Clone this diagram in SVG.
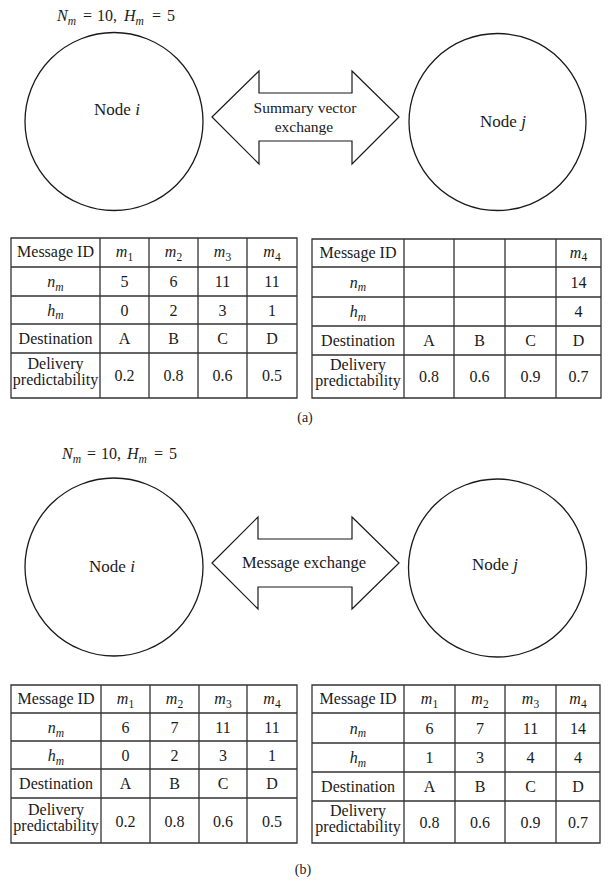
<svg xmlns="http://www.w3.org/2000/svg" width="611" height="883" viewBox="0 0 611 883" font-family="'Liberation Serif', 'Times New Roman', 'DejaVu Serif', serif">
<style>
text{font-family:'Liberation Serif','Times New Roman','DejaVu Serif',serif;fill:#1a1a1a}
.node{fill:#fff;stroke:#1a1a1a;stroke-width:1.3}
.arrow{fill:#fff;stroke:#1a1a1a;stroke-width:1.2}
.lbl{font-size:17px;text-anchor:middle}
.al{font-size:16.5px;text-anchor:middle}
.al2{font-size:15.5px;text-anchor:middle}
.hd{font-size:16px}
.cell{font-size:16px;text-anchor:middle}
.grid{fill:none;stroke:#333;stroke-width:1.3}
.it{font-style:italic}
.sub{font-size:11.5px}
.cap{font-size:14px;text-anchor:middle}
</style>

<!-- (a) -->
<g id="header-a" class="hd">
<text y="21"><tspan x="57" class="it">N</tspan><tspan class="it sub" dy="3.5">m</tspan><tspan x="83" dy="-3.5">=</tspan><tspan x="97">10,</tspan><tspan x="124" class="it">H</tspan><tspan class="it sub" dy="3.5">m</tspan><tspan x="152" dy="-3.5">=</tspan><tspan x="167">5</tspan></text>
</g>
<g id="node-i-a">
<circle class="node" cx="114" cy="121.5" r="89"/>
<text class="lbl" x="117" y="115">Node <tspan class="it">i</tspan></text>
</g>
<g id="node-j-a">
<circle class="node" cx="497.5" cy="122" r="88.5"/>
<text class="lbl" x="503" y="127">Node <tspan class="it">j</tspan></text>
</g>
<g id="connectors-a">
<polygon class="arrow" points="212,117 259,71 259,93 352,93 352,71 399,117 352,164 352,141 259,141 259,164"/>
<text class="al2" x="305" y="112.5">Summary vector</text>
<text class="al2" x="304" y="131.5">exchange</text>
</g>

<g id="table-a-i">
<path class="grid" d="M11,238H297V398H11Z M11,267H297 M11,296H297 M11,324H297 M11,353H297 M100,238V398 M149,238V398 M198,238V398 M247,238V398"/>
<g class="cell">
<text x="55.5" y="257">Message ID</text>
<text x="124.5" y="257"><tspan class="it">m</tspan><tspan class="sub" dy="3.5">1</tspan></text>
<text x="173.5" y="257"><tspan class="it">m</tspan><tspan class="sub" dy="3.5">2</tspan></text>
<text x="222.5" y="257"><tspan class="it">m</tspan><tspan class="sub" dy="3.5">3</tspan></text>
<text x="272" y="257"><tspan class="it">m</tspan><tspan class="sub" dy="3.5">4</tspan></text>
<text x="55.5" y="287"><tspan class="it">n</tspan><tspan class="it sub" dy="3.5">m</tspan></text>
<text x="124.5" y="287">5</text><text x="173.5" y="287">6</text><text x="222.5" y="287">11</text><text x="272" y="287">11</text>
<text x="55.5" y="315.5"><tspan class="it">h</tspan><tspan class="it sub" dy="3.5">m</tspan></text>
<text x="124.5" y="315.5">0</text><text x="173.5" y="315.5">2</text><text x="222.5" y="315.5">3</text><text x="272" y="315.5">1</text>
<text x="55.5" y="344">Destination</text>
<text x="124.5" y="344">A</text><text x="173.5" y="344">B</text><text x="222.5" y="344">C</text><text x="272" y="344">D</text>
<text x="55.5" y="369">Delivery</text>
<text x="55.5" y="385">predictability</text>
<text x="124.5" y="381">0.2</text><text x="173.5" y="381">0.8</text><text x="222.5" y="381">0.6</text><text x="272" y="381">0.5</text>
</g>
</g>

<g id="table-a-j">
<path class="grid" d="M312,239H601V398H312Z M312,267H601 M312,297H601 M312,326H601 M312,355H601 M404,239V398 M454,239V398 M505,239V398 M556,239V398"/>
<g class="cell">
<text x="358" y="257.5">Message ID</text>
<text x="578.5" y="257.5"><tspan class="it">m</tspan><tspan class="sub" dy="3.5">4</tspan></text>
<text x="358" y="287.5"><tspan class="it">n</tspan><tspan class="it sub" dy="3.5">m</tspan></text>
<text x="578.5" y="287.5">14</text>
<text x="358" y="317"><tspan class="it">h</tspan><tspan class="it sub" dy="3.5">m</tspan></text>
<text x="578.5" y="317">4</text>
<text x="358" y="346">Destination</text>
<text x="429" y="346">A</text><text x="479.5" y="346">B</text><text x="530.5" y="346">C</text><text x="578.5" y="346">D</text>
<text x="358" y="370">Delivery</text>
<text x="358" y="386">predictability</text>
<text x="429" y="382">0.8</text><text x="479.5" y="382">0.6</text><text x="530.5" y="382">0.9</text><text x="578.5" y="382">0.7</text>
</g>
</g>
<text class="cap" x="305" y="422">(a)</text>

<!-- (b) -->
<g id="header-b" class="hd">
<text y="459"><tspan x="62" class="it">N</tspan><tspan class="it sub" dy="3.5">m</tspan><tspan x="87" dy="-3.5">=</tspan><tspan x="101">10,</tspan><tspan x="127" class="it">H</tspan><tspan class="it sub" dy="3.5">m</tspan><tspan x="154" dy="-3.5">=</tspan><tspan x="169">5</tspan></text>
</g>
<g id="node-i-b">
<circle class="node" cx="114" cy="567" r="89"/>
<text class="lbl" x="112" y="572">Node <tspan class="it">i</tspan></text>
</g>
<g id="node-j-b">
<circle class="node" cx="497.5" cy="568" r="89"/>
<text class="lbl" x="495" y="570">Node <tspan class="it">j</tspan></text>
</g>
<g id="connectors-b">
<polygon class="arrow" points="212,563 258,517 258,539 352,539 352,517 399,563 352,609 352,587 258,587 258,609"/>
<text class="al" x="304" y="568">Message exchange</text>
</g>

<g id="table-b-i">
<path class="grid" d="M11,685H297V843H11Z M11,713H297 M11,741H297 M11,769H297 M11,798H297 M101,685V843 M150,685V843 M199,685V843 M247,685V843"/>
<g class="cell">
<text x="56" y="704">Message ID</text>
<text x="125.5" y="704"><tspan class="it">m</tspan><tspan class="sub" dy="3.5">1</tspan></text>
<text x="174.5" y="704"><tspan class="it">m</tspan><tspan class="sub" dy="3.5">2</tspan></text>
<text x="223" y="704"><tspan class="it">m</tspan><tspan class="sub" dy="3.5">3</tspan></text>
<text x="272" y="704"><tspan class="it">m</tspan><tspan class="sub" dy="3.5">4</tspan></text>
<text x="56" y="733"><tspan class="it">n</tspan><tspan class="it sub" dy="3.5">m</tspan></text>
<text x="125.5" y="733">6</text><text x="174.5" y="733">7</text><text x="223" y="733">11</text><text x="272" y="733">11</text>
<text x="56" y="761"><tspan class="it">h</tspan><tspan class="it sub" dy="3.5">m</tspan></text>
<text x="125.5" y="761">0</text><text x="174.5" y="761">2</text><text x="223" y="761">3</text><text x="272" y="761">1</text>
<text x="56" y="789">Destination</text>
<text x="125.5" y="789">A</text><text x="174.5" y="789">B</text><text x="223" y="789">C</text><text x="272" y="789">D</text>
<text x="56" y="815">Delivery</text>
<text x="56" y="831">predictability</text>
<text x="125.5" y="826.5">0.2</text><text x="174.5" y="826.5">0.8</text><text x="223" y="826.5">0.6</text><text x="272" y="826.5">0.5</text>
</g>
</g>

<g id="table-b-j">
<path class="grid" d="M312,685H600V843H312Z M312,713H600 M312,743H600 M312,772H600 M312,801H600 M404,685V843 M455,685V843 M505,685V843 M556,685V843"/>
<g class="cell">
<text x="358" y="704">Message ID</text>
<text x="429.5" y="704"><tspan class="it">m</tspan><tspan class="sub" dy="3.5">1</tspan></text>
<text x="480" y="704"><tspan class="it">m</tspan><tspan class="sub" dy="3.5">2</tspan></text>
<text x="530.5" y="704"><tspan class="it">m</tspan><tspan class="sub" dy="3.5">3</tspan></text>
<text x="578" y="704"><tspan class="it">m</tspan><tspan class="sub" dy="3.5">4</tspan></text>
<text x="358" y="733.5"><tspan class="it">n</tspan><tspan class="it sub" dy="3.5">m</tspan></text>
<text x="429.5" y="733.5">6</text><text x="480" y="733.5">7</text><text x="530.5" y="733.5">11</text><text x="578" y="733.5">14</text>
<text x="358" y="763"><tspan class="it">h</tspan><tspan class="it sub" dy="3.5">m</tspan></text>
<text x="429.5" y="763">1</text><text x="480" y="763">3</text><text x="530.5" y="763">4</text><text x="578" y="763">4</text>
<text x="358" y="792">Destination</text>
<text x="429.5" y="792">A</text><text x="480" y="792">B</text><text x="530.5" y="792">C</text><text x="578" y="792">D</text>
<text x="358" y="816">Delivery</text>
<text x="358" y="832">predictability</text>
<text x="429.5" y="827.5">0.8</text><text x="480" y="827.5">0.6</text><text x="530.5" y="827.5">0.9</text><text x="578" y="827.5">0.7</text>
</g>
</g>
<text class="cap" x="303" y="874">(b)</text>
</svg>
